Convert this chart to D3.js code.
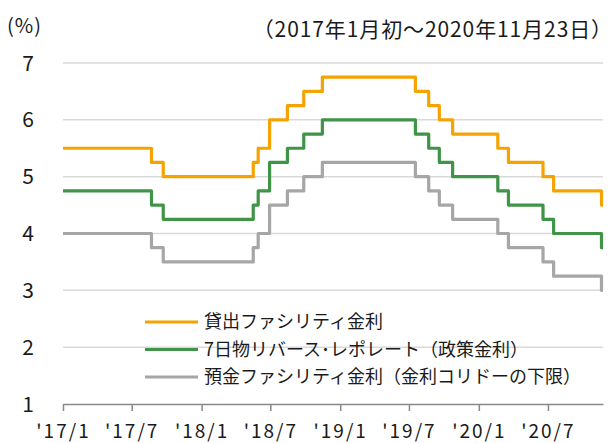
<!DOCTYPE html>
<html>
<head>
<meta charset="utf-8">
<script src="https://cdn.jsdelivr.net/npm/d3@7"></script>
<style>
  html, body { margin: 0; padding: 0; background: #fff; }
  svg { display: block; font-family: "Noto Sans CJK JP", "Noto Sans", sans-serif; }
</style>
</head>
<body>
<svg id="chart" width="616" height="443"></svg>
<script>
// rate change dates (policy decisions), last entry = end of period
const dates = [
  "2017-01-01", "2017-08-22", "2017-09-22", "2018-05-17", "2018-05-30", "2018-06-29",
  "2018-08-15", "2018-09-27", "2018-11-15", "2019-07-18", "2019-08-22", "2019-09-19",
  "2019-10-24", "2020-02-20", "2020-03-19", "2020-06-18", "2020-07-16", "2020-11-19",
  "2020-11-23"
];
const lendingRate = [5.5, 5.25, 5.0, 5.25, 5.5, 6.0, 6.25, 6.5, 6.75, 6.5, 6.25, 6.0, 5.75, 5.5, 5.25, 5.0, 4.75, 4.5, 4.5];
const repoRate    = [4.75, 4.5, 4.25, 4.5, 4.75, 5.25, 5.5, 5.75, 6.0, 5.75, 5.5, 5.25, 5.0, 4.75, 4.5, 4.25, 4.0, 3.75, 3.75];
const depositRate = [4.0, 3.75, 3.5, 3.75, 4.0, 4.5, 4.75, 5.0, 5.25, 5.0, 4.75, 4.5, 4.25, 4.0, 3.75, 3.5, 3.25, 3.0, 3.0];

const seriesNames = [
  "貸出ファシリティ金利",
  "7日物リバース･レポレート（政策金利）",
  "預金ファシリティ金利（金利コリドーの下限）"
];
const seriesColors = ["#F5A300", "#3F9447", "#A6A6A6"];
const yTicks = [1, 2, 3, 4, 5, 6, 7];
const xTickDates = ["2017-01-01", "2017-07-01", "2018-01-01", "2018-07-01", "2019-01-01", "2019-07-01", "2020-01-01", "2020-07-01"];
const xTickLabels = ["'17/1", "'17/7", "'18/1", "'18/7", "'19/1", "'19/7", "'20/1", "'20/7"];

const svg = d3.select("#chart");
const parse = d3.timeParse("%Y-%m-%d");
const margin = { top: 63, right: 13, bottom: 39, left: 63 };
const width = 616, height = 443;

const x = d3.scaleTime()
  .domain([parse(dates[0]), parse(dates[dates.length - 1])])
  .range([margin.left, width - margin.right]);
const y = d3.scaleLinear()
  .domain([1, 7])
  .range([height - margin.bottom, margin.top]);

// gridlines
svg.append("g")
  .selectAll("line")
  .data(yTicks.slice(1))
  .join("line")
  .attr("x1", x.range()[0]).attr("x2", x.range()[1])
  .attr("y1", d => y(d)).attr("y2", d => y(d))
  .attr("stroke", "#D9D9D9").attr("stroke-width", 1.5);

// y labels
svg.append("g")
  .selectAll("text")
  .data(yTicks)
  .join("text")
  .attr("x", 34)
  .attr("y", d => y(d))
  .attr("dy", "0.36em")
  .attr("text-anchor", "end")
  .attr("font-size", 21)
  .attr("fill", "#1a1a1a")
  .text(d => d);

// x axis
const xAxis = svg.append("g")
  .attr("transform", `translate(0,${y(1)})`)
  .call(d3.axisBottom(x)
    .tickValues(xTickDates.map(parse))
    .tickFormat((d, i) => xTickLabels[i])
    .tickSizeInner(7).tickSizeOuter(0).tickPadding(14));
xAxis.select(".domain").attr("stroke", "#898989").attr("stroke-width", 1.5);
xAxis.selectAll(".tick line").attr("stroke", "#898989").attr("stroke-width", 1.5);
xAxis.selectAll(".tick text")
  .attr("font-size", 19)
  .attr("letter-spacing", "2px")
  .attr("fill", "#1a1a1a")
  .attr("font-family", "\"Noto Sans CJK JP\", sans-serif");

// step lines
const allSeries = [lendingRate, repoRate, depositRate];
const line = d3.line()
  .x((d, i) => x(parse(dates[i])))
  .y(d => y(d))
  .curve(d3.curveStepAfter);

svg.append("g")
  .selectAll("path")
  .data(allSeries)
  .join("path")
  .attr("d", d => line(d))
  .attr("fill", "none")
  .attr("stroke", (d, i) => seriesColors[i])
  .attr("stroke-width", 3.2)
  .attr("stroke-linejoin", "round");

// legend
const legend = svg.append("g");
const rows = legend.selectAll("g")
  .data(seriesNames)
  .join("g")
  .attr("transform", (d, i) => `translate(145,${322 + i * 27.5})`);
rows.append("line")
  .attr("x1", 0).attr("x2", 53)
  .attr("stroke", (d, i) => seriesColors[i])
  .attr("stroke-width", 3.2);
rows.append("text")
  .attr("x", 59)
  .attr("dy", "0.36em")
  .attr("font-size", 18)
  .attr("fill", "#1a1a1a")
  .text(d => d);

// titles
svg.append("text")
  .attr("x", 7).attr("y", 33)
  .attr("font-size", 20)
  .attr("letter-spacing", "1px")
  .attr("fill", "#1a1a1a")
  .text("(%)");
svg.append("text")
  .attr("x", 613).attr("y", 37)
  .attr("text-anchor", "end")
  .attr("font-size", 21)
  .attr("letter-spacing", "0.9px")
  .attr("fill", "#1a1a1a")
  .text("（2017年1月初～2020年11月23日）");
</script>
</body>
</html>
